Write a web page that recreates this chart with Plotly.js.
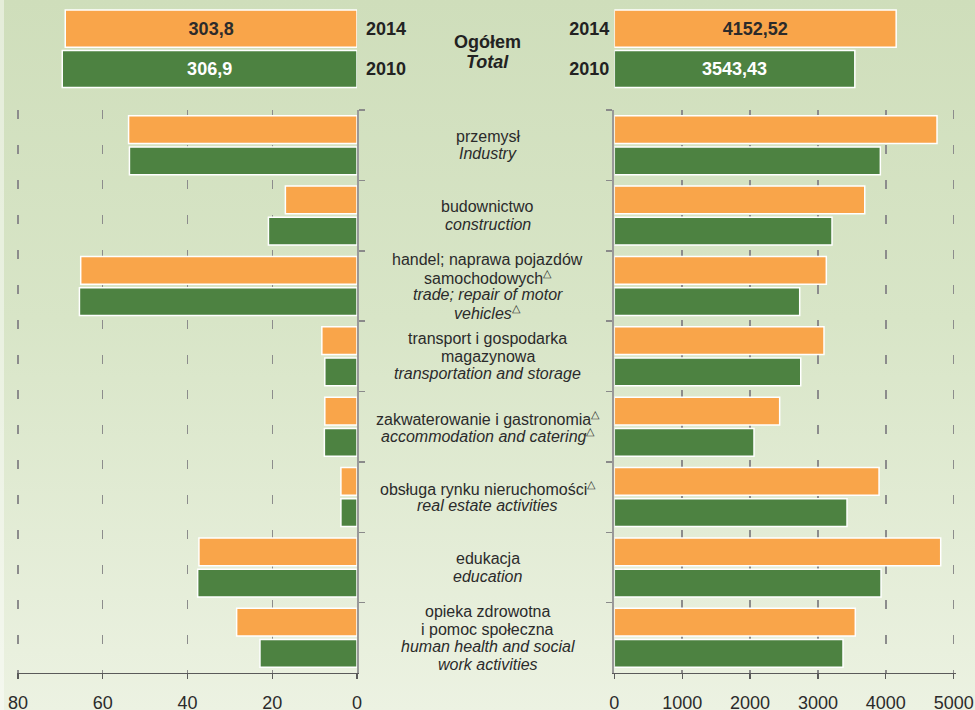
<!DOCTYPE html>
<html>
<head>
<meta charset="utf-8">
<script src="https://cdn.plot.ly/plotly-3.0.1.min.js"></script>
<style>
  html, body { margin: 0; padding: 0; }
  body { width: 975px; height: 710px; overflow: hidden;
         background: linear-gradient(to bottom, #cfdebb 0%, #d8e5c7 45%, #ecf2e2 100%); position: relative; }
  #strip { position: absolute; left: 0; top: 0; width: 4px; height: 710px; background: rgba(255,255,255,0.45); }
  #chart { width: 975px; height: 710px; position: absolute; left: 0; top: 0; }
</style>
</head>
<body>
<div id="strip"></div>
<div id="chart"></div>
<script>
// ---- data ----
const categories = ['przemysł', 'budownictwo', 'handel', 'transport', 'zakwaterowanie', 'obsługa', 'edukacja', 'opieka'];
const labelLines = [
  ['przemysł', '<i>Industry</i>'],
  ['budownictwo', '<i>construction</i>'],
  ['handel; naprawa pojazdów', 'samochodowych<sup>△</sup>', '<i>trade; repair of motor</i>', '<i>vehicles</i><sup>△</sup>'],
  ['transport i gospodarka', 'magazynowa', '<i>transportation and storage</i>'],
  ['zakwaterowanie i gastronomia<sup>△</sup>', '<i>accommodation and catering</i><sup>△</sup>'],
  ['obsługa rynku nieruchomości<sup>△</sup>', '<i>real estate activities</i>'],
  ['edukacja', '<i>education</i>'],
  ['opieka zdrowotna', 'i pomoc społeczna', '<i>human health and social</i>', '<i>work activities</i>']
];
const left2014  = [53.9, 16.9, 65.2, 8.3, 7.6, 3.8, 37.3, 28.4];
const left2010  = [53.7, 20.9, 65.5, 7.6, 7.7, 3.8, 37.6, 22.9];
const right2014 = [4754, 3689, 3123, 3089, 2436, 3900, 4808, 3550];
const right2010 = [3919, 3207, 2731, 2746, 2058, 3428, 3929, 3369];
const years = ['2014', '2010'];
const leftTotals  = [303.8, 306.9];
const rightTotals = [4152.52, 3543.43];
const totalLabel = ['Ogółem', 'Total'];
const leftTicks  = [80, 60, 40, 20, 0];
const rightTicks = [0, 1000, 2000, 3000, 4000, 5000];

// ---- style ----
const ORANGE = '#f9a54a', GREEN = '#4d8241';
const FONT = 'Liberation Sans, Arial, sans-serif';
const barLine = {color: '#ffffff', width: 1.5};
const fmt = (v, d) => v.toFixed(d).replace('.', ',');

const traces = [
  {type: 'bar', orientation: 'h', x: left2014, y: categories, xaxis: 'x', yaxis: 'y',
   marker: {color: ORANGE, line: barLine}, width: 0.395, offset: -0.42, hoverinfo: 'skip'},
  {type: 'bar', orientation: 'h', x: left2010, y: categories, xaxis: 'x', yaxis: 'y',
   marker: {color: GREEN, line: barLine}, width: 0.395, offset: 0.025, hoverinfo: 'skip'},
  {type: 'bar', orientation: 'h', x: right2014, y: categories, xaxis: 'x2', yaxis: 'y2',
   marker: {color: ORANGE, line: barLine}, width: 0.395, offset: -0.42, hoverinfo: 'skip'},
  {type: 'bar', orientation: 'h', x: right2010, y: categories, xaxis: 'x2', yaxis: 'y2',
   marker: {color: GREEN, line: barLine}, width: 0.395, offset: 0.025, hoverinfo: 'skip'},
  {type: 'bar', orientation: 'h', x: leftTotals, y: years, xaxis: 'x3', yaxis: 'y3',
   marker: {color: [ORANGE, GREEN], line: barLine}, width: 0.92,
   text: leftTotals.map(v => fmt(v, 1)), textposition: 'inside', insidetextanchor: 'middle', textangle: 0,
   textfont: {family: FONT, size: 18, weight: 'bold', color: ['#2b2b2b', '#ffffff']}, hoverinfo: 'skip'},
  {type: 'bar', orientation: 'h', x: rightTotals, y: years, xaxis: 'x4', yaxis: 'y4',
   marker: {color: [ORANGE, GREEN], line: barLine}, width: 0.92,
   text: rightTotals.map(v => fmt(v, 2)), textposition: 'inside', insidetextanchor: 'middle', textangle: 0,
   textfont: {family: FONT, size: 18, weight: 'bold', color: ['#2b2b2b', '#ffffff']}, hoverinfo: 'skip'}
];

const W = 975, H = 710;
// main axes extend ~1.5px beyond the outermost ticks so edge gridlines are drawn
const xdomL = [16.5 / W, 357 / W], xdomR = [614.3 / W, 955.5 / W];
const xdomLTop = [18 / W, 357 / W], xdomRTop = [614.3 / W, 953.7 / W];
const ydomMain = [1 - 673 / H, 1 - 110 / H];
const ydomTop = [1 - 89.2 / H, 1 - 8.5 / H];

const gridX = {showgrid: true, gridcolor: '#8c8c8c', gridwidth: 1.5, griddash: '9px,26px', zeroline: false,
  showline: true, linecolor: '#5a5a5a', linewidth: 1.2, ticks: 'outside', ticklen: 5, tickcolor: '#5a5a5a',
  tickwidth: 1.2, ticklabelstandoff: 8, tickfont: {family: FONT, size: 18, color: '#2b2b2b'}, fixedrange: true};
const catY = {type: 'category', categoryorder: 'array', categoryarray: categories, range: [7.5, -0.5],
  showgrid: false, zeroline: false, showline: true, linecolor: '#999999', linewidth: 2,
  ticks: 'outside', tickson: 'boundaries', ticklen: 6, tickcolor: '#8a8a8a', tickwidth: 1.5,
  showticklabels: false, fixedrange: true};

const annotations = [];
labelLines.forEach((lines, ci) => {
  const n = lines.length;
  lines.forEach((t, i) => {
    annotations.push({xref: 'paper', yref: 'y', x: 0.5, y: categories[ci], text: t, showarrow: false,
      xanchor: 'center', yanchor: 'middle', yshift: -((i - (n - 1) / 2) * 17.6),
      font: {family: FONT, size: 16, color: '#2b2b2b'}});
  });
});
annotations.push({xref: 'paper', yref: 'paper', x: 0.5, y: 1 - 42 / H, text: '<b>' + totalLabel[0] + '</b>',
  showarrow: false, xanchor: 'center', yanchor: 'middle', font: {family: FONT, size: 18, color: '#222'}});
annotations.push({xref: 'paper', yref: 'paper', x: 0.5, y: 1 - 62 / H, text: '<b><i>' + totalLabel[1] + '</i></b>',
  showarrow: false, xanchor: 'center', yanchor: 'middle', font: {family: FONT, size: 18, color: '#222'}});

const layout = {
  width: W, height: H, margin: {l: 0, r: 0, t: 0, b: 0, pad: 0},
  paper_bgcolor: 'rgba(0,0,0,0)', plot_bgcolor: 'rgba(0,0,0,0)',
  showlegend: false, barmode: 'overlay', separators: ', ',
  font: {family: FONT, color: '#2b2b2b'},
  xaxis: Object.assign({}, gridX, {domain: xdomL, range: [80.35, 0], tickvals: leftTicks, anchor: 'y'}),
  yaxis: Object.assign({}, catY, {domain: ydomMain, side: 'right', anchor: 'x'}),
  xaxis2: Object.assign({}, gridX, {domain: xdomR, range: [0, 5026], tickvals: rightTicks, anchor: 'y2'}),
  yaxis2: Object.assign({}, catY, {domain: ydomMain, side: 'left', anchor: 'x2'}),
  xaxis3: {domain: xdomLTop, range: [353, 0], visible: false, anchor: 'y3', fixedrange: true},
  yaxis3: {domain: ydomTop, type: 'category', categoryorder: 'array', categoryarray: years, range: [1.5, -0.5],
    side: 'right', anchor: 'x3', showline: false, showgrid: false, zeroline: false, ticks: '',
    ticklabelstandoff: 8, tickfont: {family: FONT, size: 18, weight: 'bold', color: '#222'}, fixedrange: true},
  xaxis4: {domain: xdomRTop, range: [0, 5000], visible: false, anchor: 'y4', fixedrange: true},
  yaxis4: {domain: ydomTop, type: 'category', categoryorder: 'array', categoryarray: years, range: [1.5, -0.5],
    side: 'left', anchor: 'x4', showline: false, showgrid: false, zeroline: false, ticks: '',
    ticklabelstandoff: 4, tickfont: {family: FONT, size: 18, weight: 'bold', color: '#222'}, fixedrange: true},
  annotations: annotations
};

Plotly.newPlot('chart', traces, layout, {displayModeBar: false, staticPlot: true});
</script>
</body>
</html>
